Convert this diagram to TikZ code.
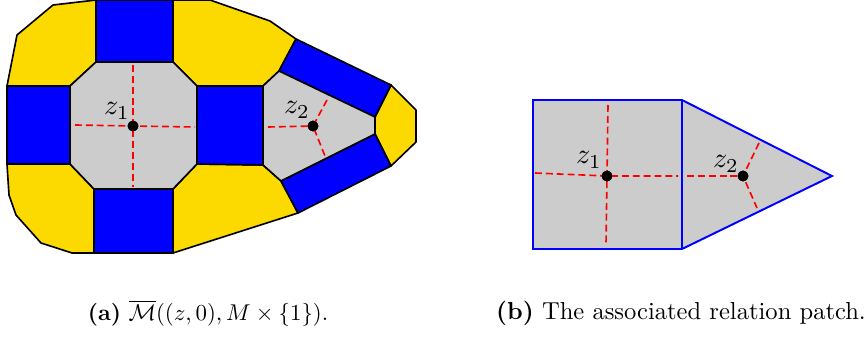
\documentclass[tikz,border=0pt]{standalone}
\usepackage{amsmath}
\definecolor{cyel}{RGB}{252,218,0}
\begin{document}
\begin{tikzpicture}[x=0.46pt,y=-0.46pt,
  face/.style={draw=black,line width=0.75pt,line join=round},
  yel/.style={face,fill=cyel},
  blu/.style={face,fill=blue},
  gry/.style={face,fill=black!20},
  cutline/.style={red,line width=0.75pt,dash pattern=on 3.2pt off 1.8pt},
  dotnode/.style={circle,fill=black,inner sep=0pt,minimum size=5pt},
  labtext/.style={inner sep=0pt,scale=1.3},
  captext/.style={inner sep=0pt,scale=1.13}]
\useasboundingbox (0,0) rectangle (867,339);
% ---------- (a) ----------
% yellow regions
\draw[yel] (7,86) -- (17,35) -- (53,5) -- (96,0) -- (96,62) -- (70,86) -- cycle;
\draw[yel] (173,0) -- (210,0) -- (270,21) -- (296,39) -- (279,71) -- (263,86) -- (197,86) -- (173,62) -- cycle;
\draw[yel] (7,164) -- (70,164) -- (94,189) -- (94,253) -- (72,253) -- (41,243) -- (16,215) -- (9,195) -- cycle;
\draw[yel] (173,253) -- (173,189) -- (197,164) -- (263,165) -- (281,181) -- (298,213) -- cycle;
\draw[yel] (391,85) -- (416,110) -- (416,142) -- (391,166) -- (375,134) -- (375,117) -- cycle;
% blue regions
\draw[blu] (96,0) rectangle (173,62);
\draw[blu] (94,189) rectangle (173,253);
\draw[blu] (7,86) rectangle (70,164);
\draw[blu] (197,86) -- (263,86) -- (263,165) -- (197,164) -- cycle;
\draw[blu] (279,71) -- (296,39) -- (391,85) -- (375,117) -- cycle;
\draw[blu] (281,181) -- (298,213) -- (391,166) -- (375,134) -- cycle;
% gray regions
\draw[gry] (96,62) -- (173,62) -- (197,86) -- (197,164) -- (173,189) -- (94,189) -- (70,164) -- (70,86) -- cycle;
\draw[gry] (263,86) -- (279,71) -- (375,117) -- (375,134) -- (281,181) -- (263,165) -- cycle;
% cuts
\node[dotnode] (za) at (133,126) {};
\coordinate (za-n) at (133,65);
\coordinate (za-s) at (133,187);
\coordinate (za-w) at (75,125);
\coordinate (za-e) at (195,127);
\draw[cutline] (za-n) -- (za.center) -- (za-s);
\draw[cutline] (za-w) -- (za.center) -- (za-e);
\node[dotnode] (zb) at (313,126) {};
\coordinate (zb-w) at (268,127);
\coordinate (zb-ne) at (327,100);
\coordinate (zb-se) at (325,156);
\draw[cutline] (zb-w) -- (zb.center);
\draw[cutline] (zb-ne) -- (zb.center) -- (zb-se);
\node[dotnode] at (za) {};
\node[dotnode] at (zb) {};
\node[labtext] (la) at (117,111) {$z_1$};
\node[labtext] (lb) at (297,110) {$z_2$};
% ---------- (b) ----------
\draw[fill=black!20,draw=blue,line width=0.9pt,line join=miter] (533,100) -- (682,100) -- (832,176) -- (682,249) -- (533,249) -- cycle;
\draw[blue,line width=0.9pt] (682,100) -- (682,249);
\node[dotnode] (zc) at (607,176) {};
\node[dotnode] (zd) at (743,176) {};
\coordinate (zc-n) at (608,105);
\coordinate (zc-s) at (606,245);
\coordinate (zc-w) at (535,173);
\coordinate (zc-e) at (678,176);
\coordinate (zd-w) at (687,176);
\coordinate (zd-ne) at (759,143);
\coordinate (zd-se) at (757,208);
\draw[cutline] (zc-n) -- (zc.center) -- (zc-s);
\draw[cutline] (zc-w) -- (zc.center) -- (zc-e);
\draw[cutline] (zd-w) -- (zd.center);
\draw[cutline] (zd-ne) -- (zd.center) -- (zd-se);
\node[dotnode] at (zc) {};
\node[dotnode] at (zd) {};
\node[labtext] (lc) at (589,160) {$z_1$};
\node[labtext] (ld) at (726,164) {$z_2$};
% captions
\node[captext,scale=0.93] (capa) at (208,313) {\textbf{(a)} $\overline{\mathcal{M}}((z,0),M\times\{1\})$.};
\node[captext] (capb) at (681,313) {\textbf{(b)} The associated relation patch.};
\end{tikzpicture}
\end{document}
